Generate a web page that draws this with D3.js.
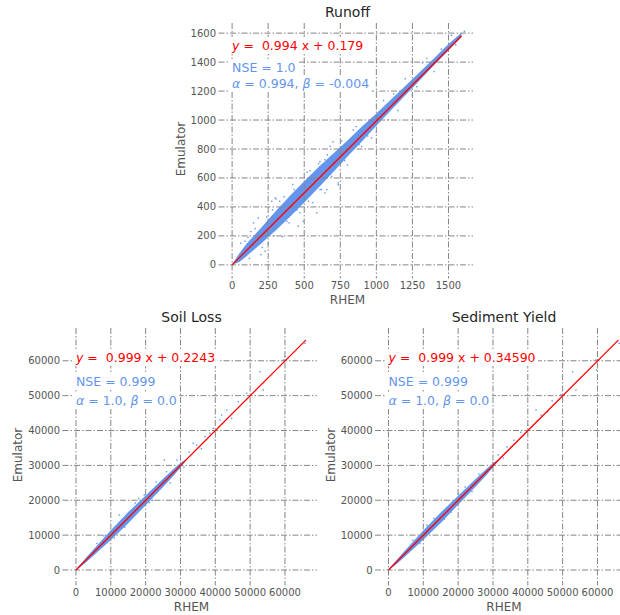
<!DOCTYPE html>
<html>
<head>
<meta charset="utf-8">
<script src="https://cdn.jsdelivr.net/npm/d3@7"></script>
<style>
  body { margin: 0; background: #fff; }
  svg { font-family: 'DejaVu Sans', sans-serif; }
</style>
</head>
<body>
<div id="chart"></div>
<script>
(function () {

// ---- data ----
var panelTitles = ['Runoff', 'Soil Loss', 'Sediment Yield']
var fitText = ['0.994 x + 0.179', '0.999 x + 0.2243', '0.999 x + 0.34590']
var fitSlopes = [0.994, 0.999, 0.999]
var fitIntercepts = [0.179, 0.2243, 0.34590]
var fitEnds = [1590, 66000, 66000]
var nseValues = ['1.0', '0.999', '0.999']
var alphaValues = ['0.994', '1.0', '1.0']
var betaValues = ['-0.004', '0.0', '0.0']

var runoffXTicks = [0, 250, 500, 750, 1000, 1250, 1500]
var runoffYTicks = [0, 200, 400, 600, 800, 1000, 1200, 1400, 1600]
var loadTicks = [0, 10000, 20000, 30000, 40000, 50000, 60000]

// dense part of each cloud: emulator range at a given RHEM value
var runoffBandX    = [0, 50, 100, 200, 300, 400, 500, 600, 700, 800, 900, 1000, 1100, 1200, 1300, 1400, 1500, 1590]
var runoffBandLow  = [0, 20, 60, 145, 235, 330, 430, 535, 640, 748, 852, 960, 1065, 1170, 1273, 1378, 1480, 1572]
var runoffBandHigh = [5, 78, 145, 255, 368, 475, 578, 675, 768, 858, 955, 1045, 1140, 1235, 1330, 1427, 1525, 1603]

var soilBandX    = [0, 2500, 5000, 10000, 15000, 20000, 25000, 28000, 30000, 31500]
var soilBandLow  = [0, 1900, 4100, 8600, 13400, 18600, 23800, 27000, 29300, 31300]
var soilBandHigh = [250, 3100, 5900, 11400, 16600, 21400, 26200, 29000, 30700, 31700]

var sedBandX    = [0, 2500, 5000, 10000, 15000, 20000, 25000, 28000, 30000, 31500]
var sedBandLow  = [0, 1900, 4100, 8700, 13500, 18700, 23900, 27100, 29400, 31300]
var sedBandHigh = [250, 3100, 5900, 11300, 16500, 21300, 26100, 28900, 30600, 31700]

// scattered points outside the dense cloud [RHEM, Emulator]
var runoffPoints = [[60, 150], [90, 163], [148, 290], [182, 324], [229, 94], [275, 439], [298, 462],
  [305, 455], [395, 290], [459, 266], [494, 301], [587, 359], [644, 497], [609, 714], [644, 726],
  [679, 818], [736, 566], [736, 554], [656, 519], [898, 818], [967, 876], [1083, 1002], [1050, 1135],
  [1200, 1285], [1150, 1065], [1400, 1335], [1320, 1395], [1520, 1585], [1610, 1612], [200, 70],
  [350, 195], [420, 555], [520, 640], [560, 430], [700, 850], [800, 690], [860, 955], [1000, 915],
  [1250, 1170], [1350, 1425], [130, 230], [250, 150], [330, 440], [470, 360], [620, 520],
  [110, 190], [160, 250], [240, 330], [280, 380], [360, 470], [430, 520], [540, 650], [600, 700],
  [660, 760], [760, 855], [840, 930], [120, 45], [210, 120], [290, 200], [380, 300], [450, 380],
  [530, 440], [610, 520], [690, 610], [780, 720], [880, 830], [940, 890], [1120, 1180], [1280, 1230],
  [1450, 1490], [1550, 1520]]

var soilPoints = [[65750, 65000], [60000, 61170], [59520, 60220], [52830, 56870], [53780, 51620],
  [49000, 50670], [46600, 48270], [43260, 45880], [44700, 43500], [41830, 44450], [41340, 43020],
  [38470, 39200], [37040, 38230], [34650, 35850], [33680, 36330], [39420, 40630], [25350, 31540],
  [19600, 21500], [12430, 15770], [31000, 29500], [29000, 31500], [27000, 25000], [22000, 20000],
  [17000, 19200], [8000, 9800], [14000, 12300], [32500, 33800], [36000, 34800], [18000, 20500],
  [23000, 25200], [11000, 9200], [6000, 7600], [26000, 28200], [21000, 19300]]

var sedPoints = [[66220, 65000], [59550, 60220], [59720, 57360], [52850, 56870], [53820, 51620],
  [42370, 45880], [43800, 44450], [45700, 45400], [49500, 50300], [47000, 48500], [40000, 41500],
  [38000, 39500], [36000, 37200], [34000, 35300], [31500, 33000], [30000, 30800], [26000, 27500],
  [24000, 22500], [20000, 21800], [16000, 14500], [11000, 12800], [7000, 8500], [33000, 32100],
  [13000, 14800], [18000, 16600], [22000, 23800], [9000, 7600]]

// ---- layout ----
var panels = [
  { left: 222, right: 473, top: 23, bottom: 275, xDomain: [-70, 1670], yDomain: [-70, 1670],
    xTicks: runoffXTicks, yTicks: runoffYTicks,
    bandX: runoffBandX, bandLow: runoffBandLow, bandHigh: runoffBandHigh, points: runoffPoints },
  { left: 66, right: 317, top: 328, bottom: 582, xDomain: [-2870, 69200], yDomain: [-3440, 69400],
    xTicks: loadTicks, yTicks: loadTicks,
    bandX: soilBandX, bandLow: soilBandLow, bandHigh: soilBandHigh, points: soilPoints },
  { left: 378.5, right: 629.5, top: 328, bottom: 582, xDomain: [-2870, 69200], yDomain: [-3440, 69400],
    xTicks: loadTicks, yTicks: loadTicks,
    bandX: sedBandX, bandLow: sedBandLow, bandHigh: sedBandHigh, points: sedPoints }
]

var textColor = '#555555'
var gridColor = '#858585'
var blue = '#6495ED'

var svg = d3.select('#chart').append('svg')
    .attr('width', 620)
    .attr('height', 615)

// white box behind a text line, like matplotlib's bbox
function boxed(g, node) {
  var b = node.getBBox()
  g.insert('rect', function () { return node })
    .attr('x', b.x - 2.5)
    .attr('y', b.y - 1)
    .attr('width', b.width + 5)
    .attr('height', b.height + 2)
    .attr('fill', '#fff')
}

panels.forEach(function (p, i) {

  var x = d3.scaleLinear().domain(p.xDomain).range([p.left, p.right])
  var y = d3.scaleLinear().domain(p.yDomain).range([p.bottom, p.top])

  var g = svg.append('g')

  // dense cloud
  var bandData = p.bandX.map(function (v, k) { return { x: v, lo: p.bandLow[k], hi: p.bandHigh[k] } })
  var area = d3.area()
    .x(function (d) { return x(d.x) })
    .y0(function (d) { return y(d.lo) })
    .y1(function (d) { return y(d.hi) })

  g.append('path')
    .datum(bandData)
    .attr('d', area)
    .attr('fill', blue)

  g.selectAll('.pt')
    .data(p.points)
    .enter().append('rect')
    .attr('class', 'pt')
    .attr('x', function (d) { return x(d[0]) - 0.7 })
    .attr('y', function (d) { return y(d[1]) - 0.7 })
    .attr('width', 1.4)
    .attr('height', 1.4)
    .attr('fill', blue)

  // grid
  g.selectAll('.vgrid')
    .data(p.xTicks)
    .enter().append('line')
    .attr('x1', function (d) { return x(d) })
    .attr('x2', function (d) { return x(d) })
    .attr('y1', p.top)
    .attr('y2', p.bottom + 3.5)
    .attr('stroke', gridColor)
    .attr('stroke-width', 1)
    .attr('stroke-dasharray', '6,2,1.5,2')

  g.selectAll('.hgrid')
    .data(p.yTicks)
    .enter().append('line')
    .attr('x1', p.left - 3.5)
    .attr('x2', p.right)
    .attr('y1', function (d) { return y(d) })
    .attr('y2', function (d) { return y(d) })
    .attr('stroke', gridColor)
    .attr('stroke-width', 1)
    .attr('stroke-dasharray', '6,2,1.5,2')

  // fitted line
  g.append('line')
    .attr('x1', x(0))
    .attr('y1', y(fitIntercepts[i]))
    .attr('x2', x(fitEnds[i]))
    .attr('y2', y(fitSlopes[i] * fitEnds[i] + fitIntercepts[i]))
    .attr('stroke', 'red')
    .attr('stroke-width', 1.3)

  // tick labels
  g.selectAll('.xlab')
    .data(p.xTicks)
    .enter().append('text')
    .attr('x', function (d) { return x(d) })
    .attr('y', p.bottom + 14)
    .attr('text-anchor', 'middle')
    .attr('font-size', 10)
    .attr('fill', textColor)
    .text(function (d) { return d })

  g.selectAll('.ylab')
    .data(p.yTicks)
    .enter().append('text')
    .attr('x', p.left - 6)
    .attr('y', function (d) { return y(d) })
    .attr('dy', '0.35em')
    .attr('text-anchor', 'end')
    .attr('font-size', 10)
    .attr('fill', textColor)
    .text(function (d) { return d })

  var cx = (p.left + p.right) / 2
  var cy = (p.top + p.bottom) / 2

  g.append('text')
    .attr('x', cx)
    .attr('y', p.top - 6)
    .attr('text-anchor', 'middle')
    .attr('font-size', 14)
    .attr('fill', '#262626')
    .text(panelTitles[i])

  g.append('text')
    .attr('x', cx)
    .attr('y', p.bottom + 29)
    .attr('text-anchor', 'middle')
    .attr('font-size', 12)
    .attr('fill', textColor)
    .text('RHEM')

  var yLabX = i == 0 ? 185 : p.left - 44
  g.append('text')
    .attr('transform', 'translate(' + yLabX + ',' + cy + ') rotate(-90)')
    .attr('text-anchor', 'middle')
    .attr('font-size', 12)
    .attr('fill', textColor)
    .text('Emulator')

  // annotations
  var ax = x(0)
  var ay = i == 0 ? 50 : p.top + 34

  var t1 = g.append('text')
    .attr('x', ax)
    .attr('y', ay)
    .attr('font-size', 12.5)
    .attr('fill', 'red')
  t1.append('tspan').attr('font-style', 'italic').text('y')
  t1.append('tspan').text('\u00a0=\u00a0\u00a0' + fitText[i])
  boxed(g, t1.node())

  var t2 = g.append('text')
    .attr('x', ax)
    .attr('y', ay + (i == 0 ? 22 : 24))
    .attr('font-size', 12.5)
    .attr('fill', blue)
    .text('NSE = ' + nseValues[i])
  boxed(g, t2.node())

  var t3 = g.append('text')
    .attr('x', ax)
    .attr('y', ay + (i == 0 ? 38 : 43))
    .attr('font-size', 12.5)
    .attr('fill', blue)
  t3.append('tspan').attr('font-style', 'italic').text('α')
  t3.append('tspan').text(' = ' + alphaValues[i] + ', ')
  t3.append('tspan').attr('font-style', 'italic').text('β')
  t3.append('tspan').text(' = ' + betaValues[i])
  boxed(g, t3.node())
})

})()
</script>
</body>
</html>
